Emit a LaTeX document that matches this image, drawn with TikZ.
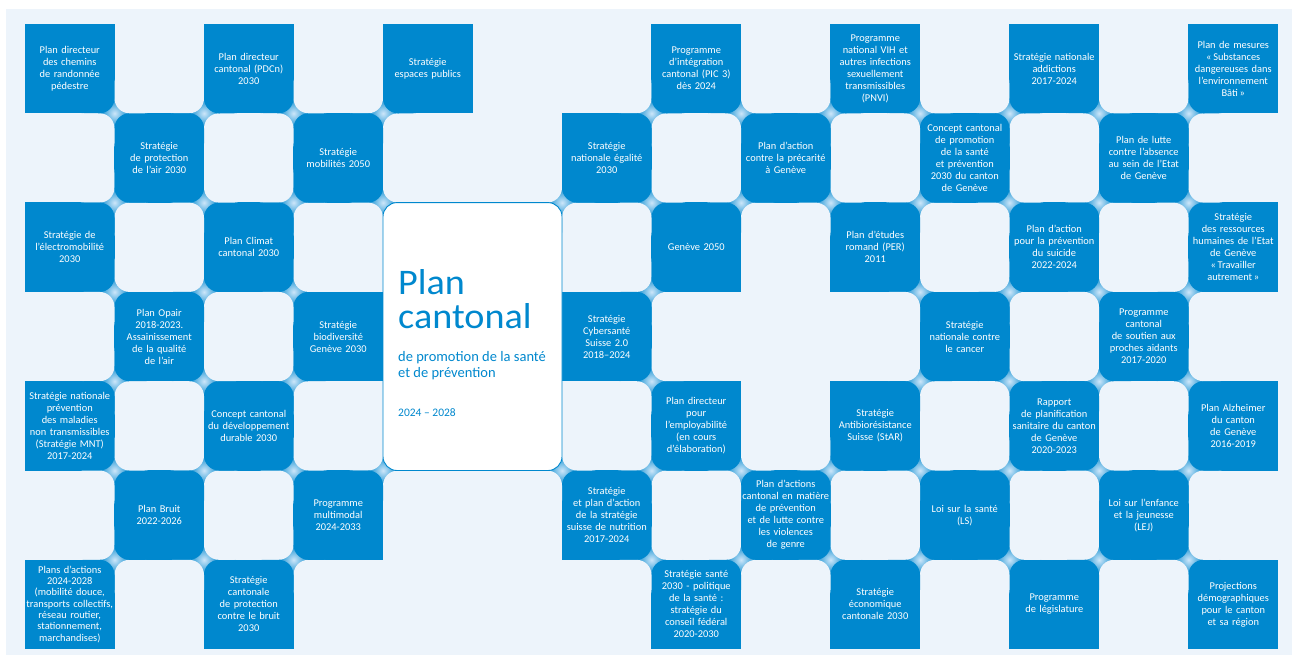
\documentclass[tikz,border=0pt]{standalone}
\usepackage{fontspec}
\setmainfont{Carlito}
\definecolor{cblue}{RGB}{0,136,206}
\definecolor{cpanel}{RGB}{237,244,251}
\definecolor{jmid}{RGB}{205,230,249}
\pgfdeclarelayer{cells}
\pgfdeclarelayer{joints}
\pgfsetlayers{cells,joints,main}
\tikzset{
 celltext/.style={text=white, font=\fontsize{10.4}{12}\selectfont, align=center, text width=88pt, minimum width=89.5pt, minimum height=89.3pt, inner sep=0pt},
 cardbox/.style={fill=white, draw=cblue, line width=0.9pt, rounded corners=14pt, minimum width=179pt, minimum height=267.9pt, inner sep=0pt},
 cardtext/.style={text=cblue, anchor=base west, inner sep=0pt},
 quadblue/.style={fill=cblue, rounded corners=15pt},
 quadlight/.style={fill=cpanel, rounded corners=15pt},
 jointshade/.style={inner color=jmid, outer color=cblue},
}
\newcommand\cellnode[4]{%
  \node[celltext] (#1) at ({69.75+89.5*#2},{68.65+89.3*#3}) {#4};
  \begin{pgfonlayer}{cells}
    \fill[cblue] (#1.south west) rectangle (#1.north east);
  \end{pgfonlayer}}
% blue at NW and SE
\newcommand\juncA[2]{%
 \begin{pgfonlayer}{joints}%
 \pgfmathsetmacro\vx{25+89.5*#1}%
 \pgfmathsetmacro\vy{24+89.3*#2}%
 \shade[jointshade] (\vx,\vy) circle[radius=16];
 \fill[quadblue] (\vx-45,\vy-45) rectangle (\vx,\vy);
 \fill[quadblue] (\vx,\vy) rectangle (\vx+45,\vy+45);
 \fill[quadlight] (\vx,\vy-45) rectangle (\vx+45,\vy);
 \fill[quadlight] (\vx-45,\vy) rectangle (\vx,\vy+45);
 \end{pgfonlayer}}
% blue at NE and SW
\newcommand\juncB[2]{%
 \begin{pgfonlayer}{joints}%
 \pgfmathsetmacro\vx{25+89.5*#1}%
 \pgfmathsetmacro\vy{24+89.3*#2}%
 \shade[jointshade] (\vx,\vy) circle[radius=16];
 \fill[quadlight] (\vx-45,\vy-45) rectangle (\vx,\vy);
 \fill[quadlight] (\vx,\vy) rectangle (\vx+45,\vy+45);
 \fill[quadblue] (\vx,\vy-45) rectangle (\vx+45,\vy);
 \fill[quadblue] (\vx-45,\vy) rectangle (\vx,\vy+45);
 \end{pgfonlayer}}
\begin{document}
\begin{tikzpicture}[x=1pt,y=-1pt]
\useasboundingbox (0,0) rectangle (1292,655);
\begin{pgfonlayer}{cells}
\fill[white] (0,0) rectangle (1292,655);
\fill[cpanel] (6,9) rectangle (1292,655);
\end{pgfonlayer}
% row 0
\cellnode{c00}{0}{0}{Plan directeur\\des chemins\\de randonnée\\pédestre}
\cellnode{c20}{2}{0}{Plan directeur\\cantonal (PDCn)\\2030}
\cellnode{c40}{4}{0}{Stratégie\\espaces publics}
\cellnode{c70}{7}{0}{Programme\\d’intégration\\cantonal (PIC 3)\\dès 2024}
\cellnode{c90}{9}{0}{Programme\\national VIH et\\autres infections\\sexuellement\\transmissibles\\(PNVI)}
\cellnode{c110}{11}{0}{Stratégie nationale\\addictions\\2017-2024}
\cellnode{c130}{13}{0}{Plan de mesures\\«\,Substances\\dangereuses dans\\l’environnement\\Bâti\,»}
% row 1
\cellnode{c11}{1}{1}{Stratégie\\de protection\\de l’air 2030}
\cellnode{c31}{3}{1}{Stratégie\\mobilités 2050}
\cellnode{c61}{6}{1}{Stratégie\\nationale égalité\\2030}
\cellnode{c81}{8}{1}{Plan d’action\\contre la précarité\\à Genève}
\cellnode{c101}{10}{1}{Concept cantonal\\de promotion\\de la santé\\et prévention\\2030 du canton\\de Genève}
\cellnode{c121}{12}{1}{Plan de lutte\\contre l’absence\\au sein de l’Etat\\de Genève}
% row 2
\cellnode{c02}{0}{2}{Stratégie de\\l’électromobilité\\2030}
\cellnode{c22}{2}{2}{Plan Climat\\cantonal 2030}
\cellnode{c72}{7}{2}{Genève 2050}
\cellnode{c92}{9}{2}{Plan d’études\\romand (PER)\\2011}
\cellnode{c112}{11}{2}{Plan d’action\\pour la prévention\\du suicide\\2022-2024}
\cellnode{c132}{13}{2}{Stratégie\\des ressources\\humaines de l’Etat\\de Genève\\«\,Travailler\\autrement\,»}
% row 3
\cellnode{c13}{1}{3}{Plan Opair\\2018-2023.\\Assainissement\\de la qualité\\de l’air}
\cellnode{c33}{3}{3}{Stratégie\\biodiversité\\Genève 2030}
\cellnode{c63}{6}{3}{Stratégie\\Cybersanté\\Suisse 2.0\\2018–2024}
\cellnode{c103}{10}{3}{Stratégie\\nationale contre\\le cancer}
\cellnode{c123}{12}{3}{Programme\\cantonal\\de soutien aux\\proches aidants\\2017-2020}
% row 4
\cellnode{c04}{0}{4}{Stratégie nationale\\prévention\\des maladies\\non transmissibles\\(Stratégie MNT)\\2017-2024}
\cellnode{c24}{2}{4}{Concept cantonal\\du développement\\durable 2030}
\cellnode{c74}{7}{4}{Plan directeur\\pour\\l’employabilité\\(en cours\\d’élaboration)}
\cellnode{c94}{9}{4}{Stratégie\\Antibiorésistance\\Suisse (StAR)}
\cellnode{c114}{11}{4}{Rapport\\de planification\\sanitaire du canton\\de Genève\\2020-2023}
\cellnode{c134}{13}{4}{Plan Alzheimer\\du canton\\de Genève\\2016-2019}
% row 5
\cellnode{c15}{1}{5}{Plan Bruit\\2022-2026}
\cellnode{c35}{3}{5}{Programme\\multimodal\\2024-2033}
\cellnode{c65}{6}{5}{Stratégie\\et plan d’action\\de la stratégie\\suisse de nutrition\\2017-2024}
\cellnode{c85}{8}{5}{Plan d’actions\\cantonal en matière\\de prévention\\et de lutte contre\\les violences\\de genre}
\cellnode{c105}{10}{5}{Loi sur la santé\\(LS)}
\cellnode{c125}{12}{5}{Loi sur l’enfance\\et la jeunesse\\(LEJ)}
% row 6
\cellnode{c06}{0}{6}{\fontsize{10.4}{11.2}\selectfont Plans d’actions\\2024-2028\\(mobilité douce,\\transports collectifs,\\réseau routier,\\stationnement,\\marchandises)}
\cellnode{c26}{2}{6}{Stratégie\\cantonale\\de protection\\contre le bruit\\2030}
\cellnode{c76}{7}{6}{Stratégie santé\\2030 - politique\\de la santé :\\stratégie du\\conseil fédéral\\2020-2030}
\cellnode{c96}{9}{6}{Stratégie\\économique\\cantonale 2030}
\cellnode{c116}{11}{6}{Programme\\de législature}
\cellnode{c136}{13}{6}{Projections\\démographiques\\pour le canton\\et sa région}
% junctions
\juncA{1}{1}\juncB{2}{1}\juncA{3}{1}\juncB{4}{1}\juncB{7}{1}\juncA{8}{1}\juncB{9}{1}\juncA{10}{1}\juncB{11}{1}\juncA{12}{1}\juncB{13}{1}
\juncB{1}{2}\juncA{2}{2}\juncB{3}{2}\juncA{4}{2}\juncB{6}{2}\juncA{7}{2}\juncB{8}{2}\juncA{9}{2}\juncB{10}{2}\juncA{11}{2}\juncB{12}{2}\juncA{13}{2}
\juncA{1}{3}\juncB{2}{3}\juncA{3}{3}\juncB{7}{3}\juncA{10}{3}\juncB{11}{3}\juncA{12}{3}\juncB{13}{3}
\juncB{1}{4}\juncA{2}{4}\juncB{3}{4}\juncA{7}{4}\juncB{10}{4}\juncA{11}{4}\juncB{12}{4}\juncA{13}{4}
\juncA{1}{5}\juncB{2}{5}\juncA{3}{5}\juncB{4}{5}\juncA{6}{5}\juncB{7}{5}\juncA{8}{5}\juncB{9}{5}\juncA{10}{5}\juncB{11}{5}\juncA{12}{5}\juncB{13}{5}
\juncB{1}{6}\juncA{2}{6}\juncB{3}{6}\juncA{7}{6}\juncB{8}{6}\juncA{9}{6}\juncB{10}{6}\juncA{11}{6}\juncB{12}{6}\juncA{13}{6}
% central card
\node[cardbox] (card) at (472.5,336.55) {};
\node[cardtext, text depth=0pt, font=\fontsize{36}{34}\selectfont, xscale=1.06] (t1) at (398,294) {Plan};
\node[cardtext, text height=23pt, font=\fontsize{36}{34}\selectfont, xscale=1.06] (t2) at (398,328) {cantonal};
\node[cardtext, font=\fontsize{14.5}{16}\selectfont] (t3) at (398,361) {de promotion de la santé};
\node[cardtext, font=\fontsize{14.5}{16}\selectfont] (t4) at (398,377) {et de prévention};
\node[cardtext, font=\fontsize{11.5}{14}\selectfont] (t5) at (398,416) {2024 – 2028};
\end{tikzpicture}
\end{document}
